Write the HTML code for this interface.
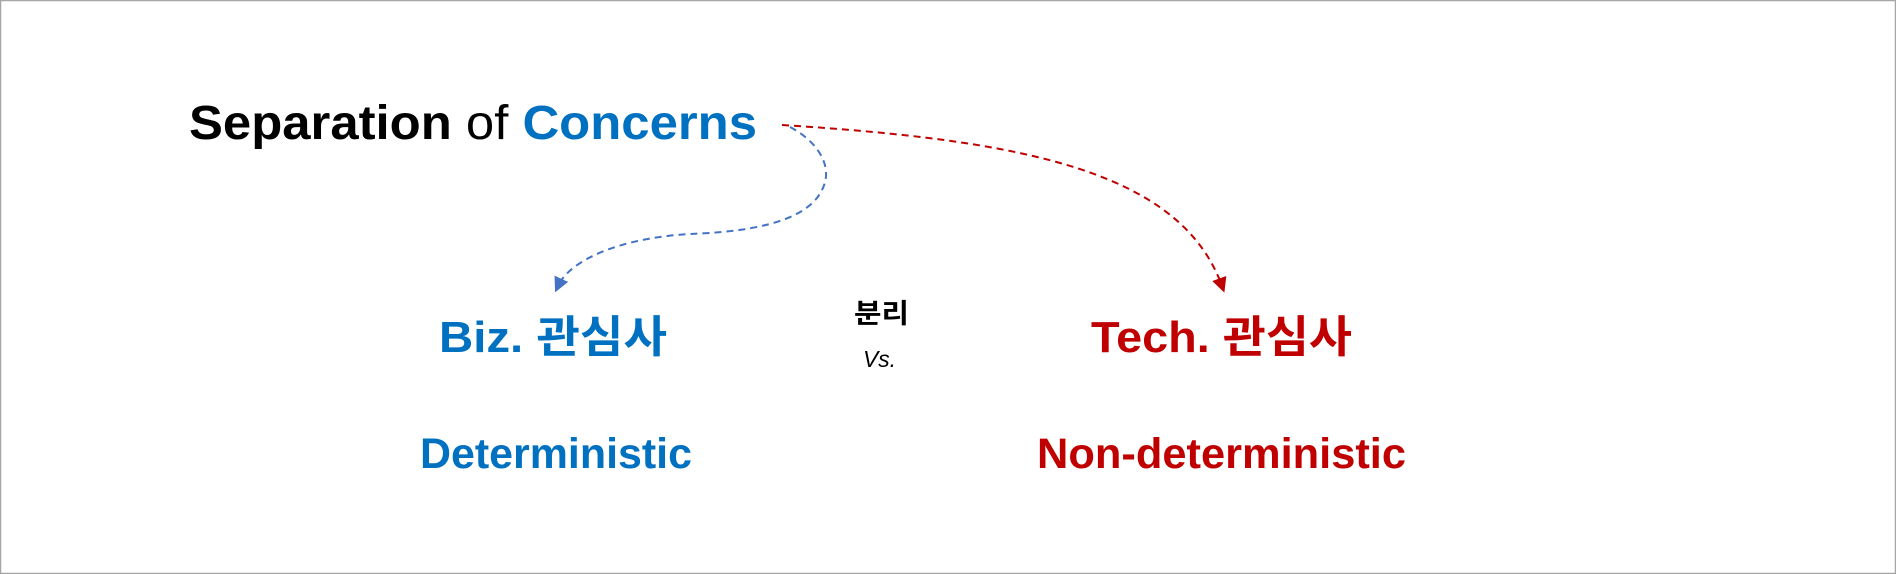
<!DOCTYPE html>
<html><head><meta charset="utf-8"><style>
html,body{margin:0;padding:0;background:#fff;}
svg{display:block;}
text{font-family:"Liberation Sans","Noto Sans CJK KR",sans-serif;}
</style></head><body>
<svg width="1896" height="574" viewBox="0 0 1896 574" xmlns="http://www.w3.org/2000/svg">
<rect x="0.5" y="0.5" width="1895" height="573" fill="#fff" stroke="#a6a6a6" stroke-width="1.5"/>
<defs>
<marker id="ab" markerWidth="15" markerHeight="15" refX="8" refY="7.5" orient="auto" markerUnits="userSpaceOnUse" viewBox="0 0 15 15"><path d="M0,0 L15,7.5 L0,15 Z" fill="#4472C4"/></marker>
<marker id="ar" markerWidth="15" markerHeight="15" refX="8" refY="7.5" orient="auto" markerUnits="userSpaceOnUse" viewBox="0 0 15 15"><path d="M0,0 L15,7.5 L0,15 Z" fill="#C00000"/></marker>
</defs>
<text x="189" y="139" font-size="48" textLength="568" lengthAdjust="spacingAndGlyphs"><tspan font-weight="bold" fill="#000">Separation</tspan><tspan fill="#000"> of </tspan><tspan font-weight="bold" fill="#0070C0">Concerns</tspan></text>
<path d="M790,127 C815,140 835,165 822,190 C805,225 740,232 690,234 C620,238 570,260 558,286" fill="none" stroke="#4472C4" stroke-width="2" stroke-dasharray="7,5" marker-end="url(#ab)"/>
<path d="M782,125 C1020,140 1180,170 1222,286" fill="none" stroke="#C00000" stroke-width="2" stroke-dasharray="7,5" marker-end="url(#ar)"/>
<text x="439" y="352" font-size="44" font-weight="bold" fill="#0070C0" textLength="228" lengthAdjust="spacingAndGlyphs">Biz. 관심사</text>
<text x="1091" y="352" font-size="44" font-weight="bold" fill="#C00000" textLength="261" lengthAdjust="spacingAndGlyphs">Tech. 관심사</text>
<text x="854" y="323" font-size="27" font-weight="bold" fill="#000" textLength="55" lengthAdjust="spacingAndGlyphs">분리</text>
<text x="863" y="367" font-size="23" font-style="italic" fill="#000" textLength="33" lengthAdjust="spacingAndGlyphs">Vs.</text>
<text x="420" y="468" font-size="43" font-weight="bold" fill="#0070C0" textLength="272" lengthAdjust="spacingAndGlyphs">Deterministic</text>
<text x="1037" y="468" font-size="43" font-weight="bold" fill="#C00000" textLength="369" lengthAdjust="spacingAndGlyphs">Non-deterministic</text>
</svg>
</body></html>
